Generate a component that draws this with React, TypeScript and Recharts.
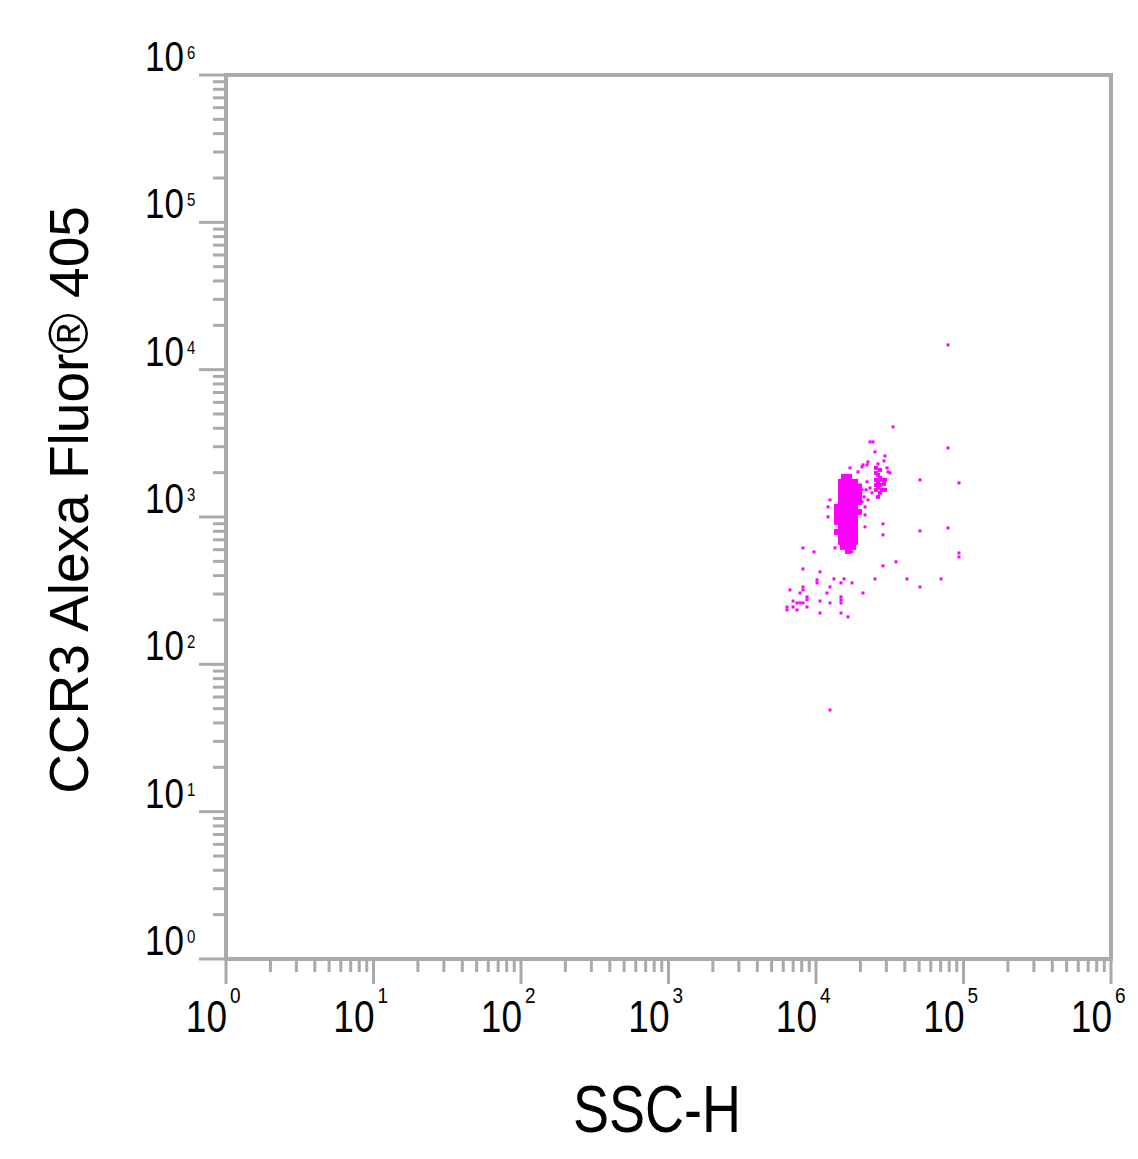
import { ScatterChart, Scatter, XAxis, YAxis, ReferenceArea } from 'recharts';

// log decades shown on both axes
const MAJOR_TICKS = [1, 10, 100, 1000, 10000, 100000, 1000000];
const EXPONENTS = ['0', '1', '2', '3', '4', '5', '6'];
const MINOR_STEPS = [2, 3, 4, 5, 6, 7, 8, 9];

// sparse events [SSC-H, CCR3]
const SPARSE_X = [
  78500, 33270, 78500, 50700, 93200, 78500, 50700, 93200, 93200, 28460, 28460, 28460,
  34860, 41400, 70400, 50700, 12440,
  23230, 24340, 25120, 29360, 28910, 30300, 26330, 22520, 20830, 22170, 17000, 19260, 20510, 30770, 31740,
  20510, 21830, 23230, 21160, 22520, 23970, 22170, 21490, 21490, 21490, 19870, 20510,
  12440, 12060, 12060, 13450, 8160, 9690, 17540,
  8160, 10640, 10160, 10160, 13240, 15480, 14770, 17540, 25120, 6660, 8160, 8160, 7790,
  12440, 11870, 20830, 6990, 7790, 8160, 8690, 8690, 10640, 12440, 14770, 14770, 14770,
  6360, 6360, 6990, 7430, 8690, 10640, 14770, 16480, 7430,
];
const SPARSE_Y = [
  14730, 4090, 2944, 1786, 1704, 843, 805, 570, 536, 898, 756, 466,
  496, 380, 380, 335, 49,
  3234, 3234, 2767, 2598, 2404, 2154, 2294, 2366, 2258, 2258, 2154, 2024, 2188, 2024, 1993,
  1528, 1528, 1576, 1369, 1306, 1458, 1731, 1171, 1033, 857, 1652, 1266,
  1306, 1171, 1002, 617, 617, 580, 580,
  444, 424, 374, 357, 380, 380, 357, 357, 380, 320, 335, 320, 305,
  335, 305, 305, 269, 261, 261, 274, 287, 269, 261, 287, 274, 261,
  245, 234, 245, 234, 245, 223, 223, 210, 261,
];

// secondary population to the right of the main cluster
const SIDE_X = [25520, 27160, 25520, 26330, 27160, 25520, 28030, 26330, 27160, 25520, 28910, 26330, 28030, 25520, 27160, 26330, 29360, 29360];
const SIDE_Y = [2154, 2088, 1993, 1931, 1843, 1786, 1786, 1731, 1652, 1652, 1678, 1576, 1528, 1528, 1458, 1369, 1786, 1528];

// dense main population, row by row
const CORE_Y = [1872, 1731, 1601, 1481, 1369, 1266, 1171, 1083, 1002, 926, 857, 792, 733, 678, 627, 589];
const CORE_X = [
  [15480, 16740],
  [14770, 15980, 17270, 18380],
  [14770, 15980, 17270, 18380, 19560],
  [14770, 15980, 17270, 18380, 19560],
  [14770, 15980, 17270, 18380, 19560],
  [14770, 15980, 17270, 18380, 19560],
  [13880, 14770, 15980, 17270, 18380],
  [13880, 14770, 15980, 17270, 18380, 19560],
  [13880, 14770, 15980, 17270, 18380],
  [13880, 14770, 15980, 17270, 18380],
  [14770, 15980, 17270, 18380],
  [13880, 14770, 15980, 17270, 18380],
  [14770, 15980, 17270, 18380],
  [14770, 15980, 17270, 18380],
  [15240, 16480, 17820],
  [16480],
];

const sparseData = SPARSE_X.map((x, i) => ({ x, y: SPARSE_Y[i] }));
const sideData = SIDE_X.map((x, i) => ({ x, y: SIDE_Y[i] }));
const coreData = CORE_Y.flatMap((y, i) => CORE_X[i].map(x => ({ x, y })));

const minorTicks = MAJOR_TICKS.slice(0, 6).flatMap(d => MINOR_STEPS.map(k => k * d));
const allTicks = [...MAJOR_TICKS, ...minorTicks];

const GRAY = '#aaaaaa';
const MAGENTA = '#ff00ff';
const FONT = '"Liberation Sans", Arial, sans-serif';
const PLOT_LEFT = 226;
const PLOT_BOTTOM = 959;

const XTick = ({ x, payload }: any) => {
  const idx = MAJOR_TICKS.indexOf(payload.value);
  if (idx < 0) {
    return <line x1={x} x2={x} y1={PLOT_BOTTOM} y2={PLOT_BOTTOM + 13} stroke={GRAY} strokeWidth={3} />;
  }
  return (
    <g>
      <line x1={x} x2={x} y1={PLOT_BOTTOM} y2={PLOT_BOTTOM + 25} stroke={GRAY} strokeWidth={3} />
      <g transform={`translate(${x + 1},1032) scale(1,1.2)`}>
        <text textAnchor="end" fontSize={37} fontFamily={FONT} fill="#000">10</text>
      </g>
      <g transform={`translate(${x + 4},1003) scale(1,1.2)`}>
        <text fontSize={19} fontFamily={FONT} fill="#000">{EXPONENTS[idx]}</text>
      </g>
    </g>
  );
};

const YTick = ({ y, payload }: any) => {
  const idx = MAJOR_TICKS.indexOf(payload.value);
  if (idx < 0) {
    return <line x1={PLOT_LEFT - 13} x2={PLOT_LEFT} y1={y} y2={y} stroke={GRAY} strokeWidth={3} />;
  }
  return (
    <g>
      <line x1={PLOT_LEFT - 27} x2={PLOT_LEFT} y1={y} y2={y} stroke={GRAY} strokeWidth={3} />
      <g transform={`translate(184,${y - 4}) scale(1,1.2)`}>
        <text textAnchor="end" fontSize={35} fontFamily={FONT} fill="#000">10</text>
      </g>
      <g transform={`translate(187,${y - 16}) scale(1,1.2)`}>
        <text fontSize={15} fontFamily={FONT} fill="#000">{EXPONENTS[idx]}</text>
      </g>
    </g>
  );
};

const dot = (size: number) => (props: any) => (
  <rect x={props.cx - size / 2} y={props.cy - size / 2} width={size} height={size} fill={MAGENTA} />
);

export default function App() {
  return (
    <div style={{ position: 'absolute', left: 0, top: 0, width: 1138, height: 1159, background: '#fff' }}>
      <ScatterChart width={1138} height={1159} margin={{ top: 75, right: 27, bottom: 0, left: 0 }}>
        <ReferenceArea x1={1} x2={1000000} y1={1} y2={1000000} fill="none" stroke={GRAY} strokeWidth={4} />
        <XAxis
          type="number"
          dataKey="x"
          scale="log"
          domain={[1, 1000000]}
          allowDataOverflow
          ticks={allTicks}
          interval={0}
          height={200}
          tickLine={false}
          axisLine={{ stroke: GRAY, strokeWidth: 4 }}
          tick={(p: any) => <XTick {...p} />}
          label={{
            content: () => (
              <g transform="translate(657,1132) scale(1,1.24)">
                <text textAnchor="middle" fontSize={54} fontFamily={FONT} fill="#000">SSC-H</text>
              </g>
            ),
          }}
        />
        <YAxis
          type="number"
          dataKey="y"
          scale="log"
          domain={[1, 1000000]}
          allowDataOverflow
          ticks={allTicks}
          interval={0}
          width={PLOT_LEFT}
          tickLine={false}
          axisLine={{ stroke: GRAY, strokeWidth: 4 }}
          tick={(p: any) => <YTick {...p} />}
          label={{
            content: () => (
              <text
                transform="translate(88,500) rotate(-90)"
                textAnchor="middle"
                fontSize={55}
                fontFamily={FONT}
                fill="#000"
              >
                CCR3 Alexa Fluor® 405
              </text>
            ),
          }}
        />
        <Scatter data={coreData} shape={dot(6)} isAnimationActive={false} />
        <Scatter data={sideData} shape={dot(4)} isAnimationActive={false} />
        <Scatter data={sparseData} shape={dot(3)} isAnimationActive={false} />
      </ScatterChart>
    </div>
  );
}
